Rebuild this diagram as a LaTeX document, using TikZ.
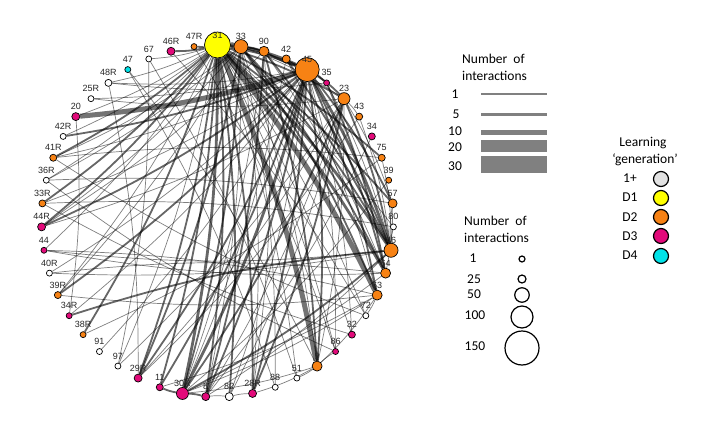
\documentclass[tikz,border=0pt]{standalone}
\usepackage{fontspec}
\setmainfont{Carlito}
\newfontfamily\labfont{Liberation Sans}
\usetikzlibrary{calc,backgrounds}
\definecolor{cY}{RGB}{255,255,0}
\definecolor{cO}{RGB}{247,130,20}
\definecolor{cM}{RGB}{226,10,122}
\definecolor{cC}{RGB}{0,226,232}
\definecolor{cW}{RGB}{255,255,255}
\definecolor{cG}{RGB}{226,226,226}
\definecolor{legline}{RGB}{128,128,128}
\begin{document}
\begin{tikzpicture}[x=1pt,y=-1pt,
  netnode/.style={circle,draw=black,line width=0.7pt,inner sep=0pt},
  nlab/.style={font=\labfont\fontsize{9}{9}\selectfont,text=black!85,inner sep=0pt},
  ea/.style={draw=black,opacity=0.5,line width=0.7pt},
  eb/.style={draw=black,opacity=0.6,line width=1.8pt},
  ec/.style={draw=black,opacity=0.6,line width=2.8pt},
  ed/.style={draw=black,opacity=0.55,line width=5pt},
  leg/.style={font=\fontsize{13.5}{14}\selectfont,inner sep=0pt,anchor=west},
  legnum/.style={font=\fontsize{13.5}{14}\selectfont,inner sep=0pt},
  lbar/.style={fill=legline,draw=none},
  lcirc/.style={circle,draw=black,line width=1.2pt,fill=white,inner sep=0pt},
  gcirc/.style={circle,draw=black,line width=1.2pt,inner sep=0pt,minimum width=14pt,minimum height=15pt}
]
\useasboundingbox (0,0) rectangle (723,428);
\coordinate (c) at (217.5,221);
% network nodes
\foreach \lab/\col/\r [count=\i from 0] in {31/cY/13, 33/cO/7, 90/cO/5, 42/cO/4, 45/cO/12, 35/cM/3, 23/cO/6, 43/cO/3.5, 34/cM/3.5, 75/cO/3.5, 39/cO/3, 57/cO/4.5, 80/cW/3, 46/cO/7, 64/cO/5, 63/cO/5, 72/cW/3, 32/cM/3.5, 86/cM/3, 9/cO/5, 51/cW/3, 88/cW/3, 28R/cM/4, 82/cW/4, 8/cM/4, 30R/cM/6, 11/cM/3.5, 29R/cM/4, 97/cW/3, 91/cW/3, 38R/cO/3, 34R/cM/3, 39R/cO/3.5, 40R/cW/3, 44/cM/3, 44R/cM/4, 33R/cO/3.5, 36R/cW/3, 41R/cO/3.5, 42R/cW/3, 20/cM/4, 25R/cW/3, 48R/cW/3.5, 47/cC/3, 67/cW/3, 46R/cM/4, 47R/cO/3} {
  \pgfmathsetmacro{\ang}{\i*7.659574}
  \node[netnode,fill=\col,minimum size=\r*2pt] (n\lab) at ({217.5+176*sin(\ang)},{221-176*cos(\ang)}) {};
  \node[nlab] (l\lab) at ($(n\lab.center)+(0,-10)$) {\lab};
}
% edges
\begin{pgfonlayer}{background}
\foreach \a/\b/\w in {31/33/d, 31/9/d, 31/63/d, 45/20/d,
  31/45/c, 31/30R/c, 31/64/c, 31/46/c, 45/46/c, 45/30R/c, 33/45/c,
  31/90/b, 31/47R/b, 31/46R/b, 31/8/b, 31/82/b, 31/28R/b, 31/29R/b, 31/57/b, 31/75/b, 31/23/b, 31/44R/b, 31/33R/b, 31/41R/b, 31/38R/b,
  45/42R/b, 45/90/b, 45/35/b, 45/23/b, 45/64/b, 45/63/b, 45/57/b, 45/9/b, 45/8/b, 45/29R/b, 45/28R/b, 45/39R/b, 45/44R/b, 45/11/b,
  33/46/b, 33/64/b, 33/30R/b, 90/46/b, 23/46/b, 23/30R/b, 34R/46/b, 46/30R/b, 30R/11/b, 30R/8/b, 33/90/b,
  33/29R/b, 90/8/b, 90/9/b, 42/46/b, 35/64/b, 23/28R/b, 33/63/b, 31/11/b,
  31/67/a, 31/80/a, 31/39R/a, 31/42R/a, 31/36R/a, 31/48R/a, 31/20/a, 31/44/a, 31/86/a, 31/32/a, 31/72/a, 31/51/a, 31/97/a,
  45/25R/a, 45/48R/a, 45/42/a, 45/32/a, 45/86/a, 45/82/a, 45/41R/a, 45/33R/a, 45/34R/a, 45/91/a, 45/40R/a,
  33/8/a, 33/9/a, 33/44R/a, 33/36R/a, 33/23/a, 33/88/a, 33/28R/a, 33/39R/a, 33/41R/a, 90/30R/a, 90/64/a, 90/28R/a, 90/44R/a,
  23/9/a, 23/43/a, 23/57/a, 23/8/a, 23/44R/a, 23/25R/a, 23/97/a, 23/82/a, 23/29R/a,
  42/63/a, 35/46/a, 43/46/a, 75/46/a, 57/64/a,
  46/57/a, 46/80/a, 46/40R/a, 46/44/a, 46/8/a, 63/30R/a, 63/11/a, 63/39R/a, 63/72/a, 63/9/a, 64/30R/a, 64/44/a,
  9/51/a, 9/86/a, 9/30R/a, 9/28R/a, 8/82/a, 82/28R/a, 35/48R/a, 44/63/a, 40R/64/a, 36R/57/a, 41R/75/a, 33R/80/a,
  47/9/a, 47/88/a, 48R/29R/a, 67/51/a, 67/97/a, 46R/72/a, 47R/86/a, 20/34R/a, 72/41R/a, 32/33R/a, 86/36R/a,
  42/30R/a, 43/29R/a, 34/8/a, 75/38R/a, 39/30R/a} {
  \draw[e\w] (n\a) to[bend left=6] (n\b);
}
\end{pgfonlayer}
% legend 1: edge widths
\node[leg] (t1a) at (462,59) {Number\ \ of};
\node[leg] (t1b) at (462,76) {interactions};
\node[legnum] (k1) at (455,94) {1};
\node[legnum] (k5) at (456,114) {5};
\node[legnum] (k10) at (455,131) {10};
\node[legnum] (k20) at (455,147) {20};
\node[legnum] (k30) at (455,166) {30};
\fill[lbar] (481,93.3) rectangle (547,94.7);
\fill[lbar] (481,112.5) rectangle (547,115.5);
\fill[lbar] (481,129.5) rectangle (547,134.5);
\fill[lbar] (481,140) rectangle (547,152);
\fill[lbar] (481,156) rectangle (547,173);
% legend 2: node sizes
\node[leg] (t2a) at (464,221) {Number\ \ of};
\node[leg] (t2b) at (464,238) {interactions};
\node[legnum] (s1) at (473,258) {1};
\node[legnum] (s25) at (474,279) {25};
\node[legnum] (s50) at (474,294) {50};
\node[legnum] (s100) at (475,315) {100};
\node[legnum] (s150) at (475,346) {150};
\node[lcirc,minimum width=5pt,minimum height=6pt] (z1) at (522,259) {};
\node[lcirc,minimum size=8pt] (z25) at (522,279) {};
\node[lcirc,minimum size=14.5pt] (z50) at (522,295) {};
\node[lcirc,minimum size=22pt] (z100) at (522,317) {};
\node[lcirc,minimum size=34pt] (z150) at (522,348) {};
% legend 3: generation
\node[legnum] (t3a) at (643,143) {Learning};
\node[legnum] (t3b) at (645,160) {‘generation’};
\node[legnum] (g0) at (630,178) {1+};
\node[legnum] (g1) at (630,197) {D1};
\node[legnum] (g2) at (630,217) {D2};
\node[legnum] (g3) at (630,236) {D3};
\node[legnum] (g4) at (630,255) {D4};
\node[gcirc,fill=cG] (c0) at (661,179) {};
\node[gcirc,fill=cY] (c1) at (661,198) {};
\node[gcirc,fill=cO] (c2) at (661,217) {};
\node[gcirc,fill=cM] (c3) at (661,236) {};
\node[gcirc,fill=cC] (c4) at (661,256) {};
\end{tikzpicture}
\end{document}
